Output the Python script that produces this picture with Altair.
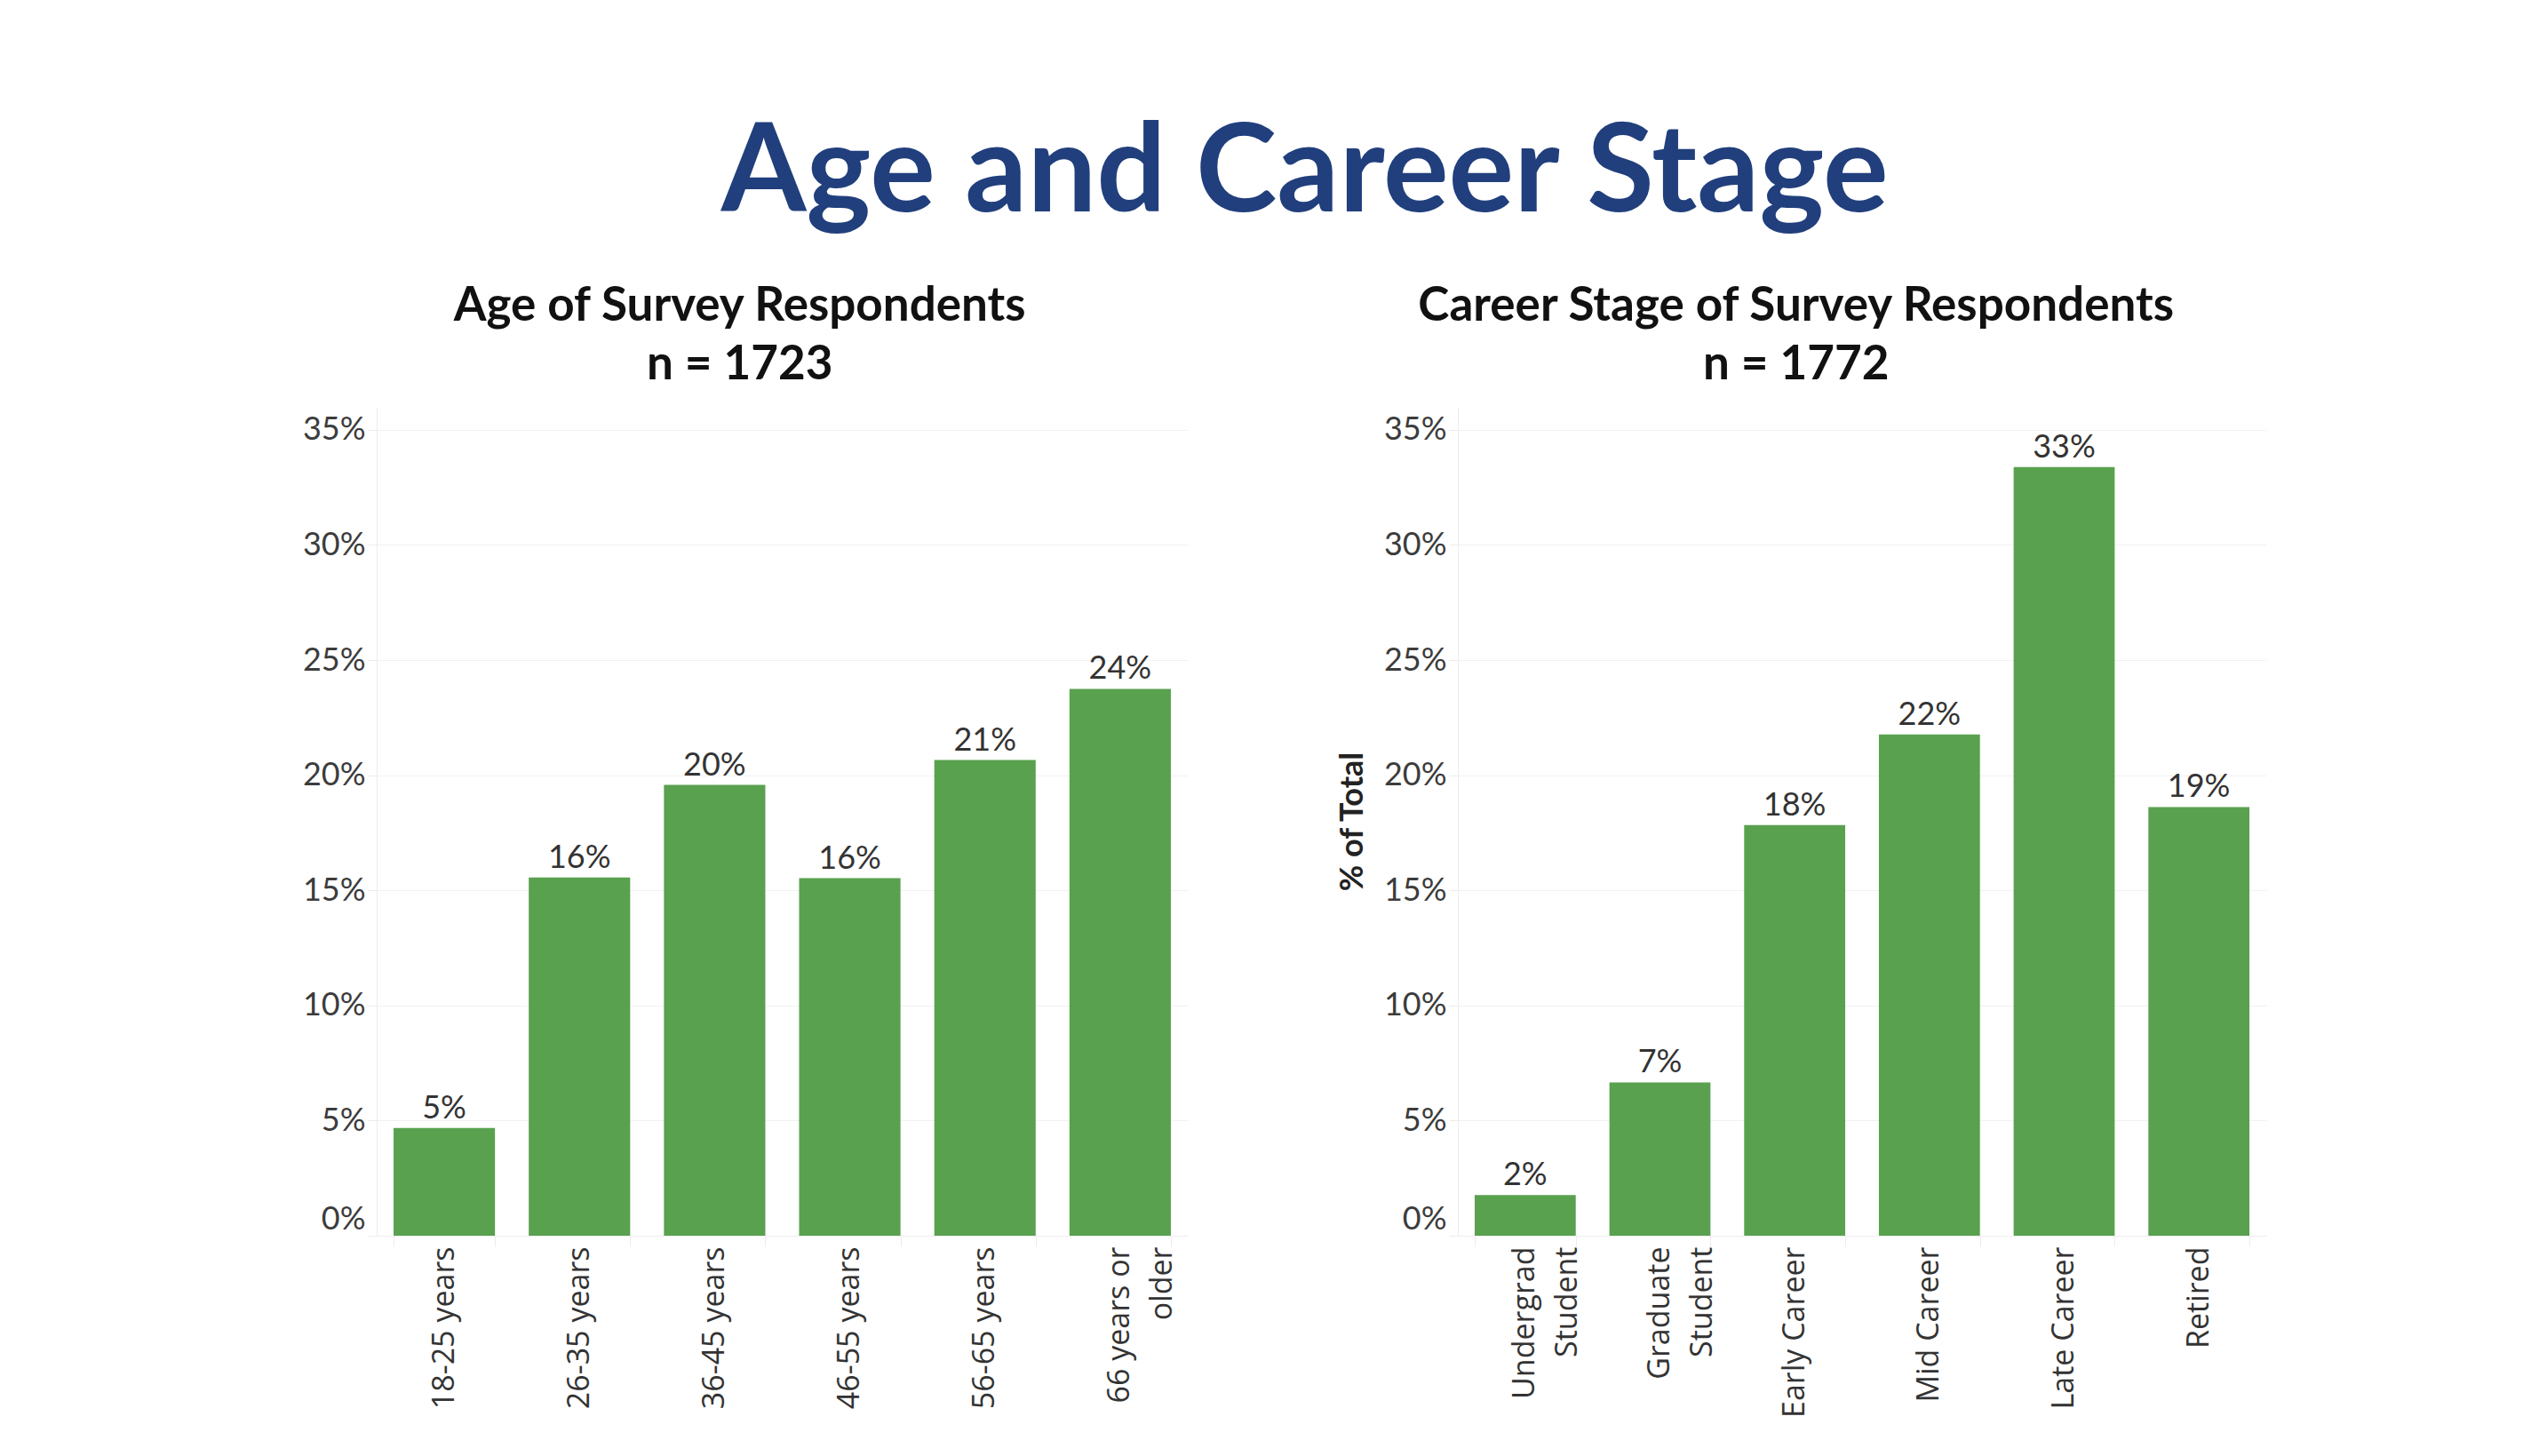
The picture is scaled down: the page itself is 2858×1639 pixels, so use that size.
import altair as alt
import pandas as pd

# ---- data ----
age_categories = ["18-25 years", "26-35 years", "36-45 years", "46-55 years",
                  "56-65 years", "66 years or\nolder"]
age_shares = [0.0468, 0.1556, 0.1958, 0.1553, 0.2066, 0.2375]

career_categories = ["Undergrad\nStudent", "Graduate\nStudent", "Early Career",
                     "Mid Career", "Late Career", "Retired"]
career_shares = [0.0177, 0.0666, 0.1784, 0.2177, 0.3339, 0.1862]

y_ticks = [0.0, 0.05, 0.10, 0.15, 0.20, 0.25, 0.30, 0.35]

main_title = "Age and Career Stage"
age_title = ["Age of Survey Respondents", "n = 1723"]
career_title = ["Career Stage of Survey Respondents", "n = 1772"]

GREEN = "#59a14f"
LIGHT = "#ececec"


def panel(categories, shares, title_lines, width, y_title):
    df = pd.DataFrame({"cat": categories, "share": shares})
    x = alt.X(
        "cat:N", sort=categories, title=None,
        scale=alt.Scale(paddingInner=0.25, paddingOuter=0.125),
        axis=alt.Axis(
            labelAngle=270, labelAlign="right", labelBaseline="middle",
            labelFont="Open Sans", labelFontSize=34, labelColor="#333333",
            labelPadding=0, labelLineHeight=48, labelLimit=0,
            labelExpr="split(datum.label, '\\n')",
            ticks=True, tickBand="extent", tickColor=LIGHT, tickSize=12,
            domainColor=LIGHT, grid=False,
        ),
    )
    y_axis_kwargs = dict(
        values=y_ticks, format=".0%",
        labelFont="Lato", labelFontSize=36, labelColor="#3c3c3c",
        labelPadding=3, labelFlush=True,
        tickColor=LIGHT, tickSize=10,
        domainColor=LIGHT, gridColor="#f1f1f1",
    )
    if y_title:
        y_axis_kwargs.update(title=y_title, titleFont="Lato", titleFontSize=36,
                             titleFontWeight="bold", titleColor="#222222",
                             titlePadding=16)
    else:
        y_axis_kwargs.update(title=None)
    y = alt.Y("share:Q", scale=alt.Scale(domain=[0, 0.36], nice=False),
              axis=alt.Axis(**y_axis_kwargs))

    base = alt.Chart(df)
    bars = base.mark_bar(color=GREEN).encode(x=x, y=y)
    labels = base.mark_text(baseline="alphabetic", dy=-11, font="Lato",
                            fontSize=36, color="#333333").encode(
        x=alt.X("cat:N", sort=categories),
        y=alt.Y("share:Q"),
        text=alt.Text("share:Q", format=".0%"),
    )
    return alt.layer(bars, labels).properties(
        width=width, height=933,
        title=alt.TitleParams(
            title_lines, font="Lato", fontSize=53, fontWeight="bold",
            color="#111111", lineHeight=66, anchor="middle", frame="bounds",
            offset=20, dx=-6,
        ),
    )


left = panel(age_categories, age_shares, age_title, 913, None)
right = panel(career_categories, career_shares, career_title, 910, "% of Total")

chart = alt.hconcat(left, right, spacing=167).properties(
    title=alt.TitleParams(
        main_title, font="Lato", fontSize=138, fontWeight="bold",
        color="#213f7c", anchor="middle", dx=23, offset=52,
    ),
    padding={"left": 332, "top": 120, "right": 40, "bottom": 20},
    background="white",
).configure_view(stroke=None)

chart.save("out.html", embed_options={"renderer": "svg", "actions": False})
